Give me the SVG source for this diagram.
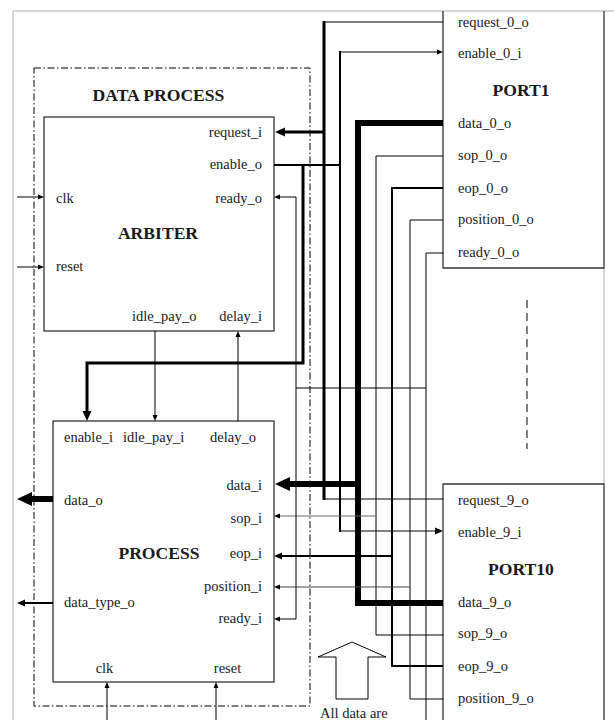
<svg xmlns="http://www.w3.org/2000/svg" width="614" height="720" viewBox="0 0 614 720">
<style>
text{font-family:"Liberation Serif","Times New Roman",serif;font-size:14.5px;fill:#1a1a1a}
.b{font-weight:bold;font-size:17.6px}
.e{text-anchor:end}
.m{text-anchor:middle}
.box{fill:none;stroke:#333;stroke-width:1.3}
.frame{fill:none;stroke:#c8c8c8;stroke-width:1.5}
.w{fill:none;stroke:#000;stroke-linejoin:miter}
</style>
<defs>
<marker id="mXL" markerUnits="userSpaceOnUse" markerWidth="16" markerHeight="15" refX="0" refY="7" orient="auto" overflow="visible"><path d="M0,0 L15,7 L0,14 z" fill="#000"/></marker>
<marker id="mL" markerUnits="userSpaceOnUse" markerWidth="11" markerHeight="10" refX="0" refY="4.5" orient="auto" overflow="visible"><path d="M0,0 L10,4.5 L0,9 z" fill="#000"/></marker>
<marker id="mM" markerUnits="userSpaceOnUse" markerWidth="9" markerHeight="8" refX="0" refY="3.5" orient="auto" overflow="visible"><path d="M0,0 L8,3.5 L0,7 z" fill="#000"/></marker>
<marker id="mS" markerUnits="userSpaceOnUse" markerWidth="7" markerHeight="6" refX="0" refY="2.5" orient="auto" overflow="visible"><path d="M0,0 L6,2.5 L0,5 z" fill="#000"/></marker>
</defs>
<rect width="614" height="720" fill="#fff"/>
<g id="frame">
<line class="frame" x1="13" y1="11" x2="614" y2="11"/>
<line class="frame" x1="13" y1="11" x2="13" y2="720"/>
<line class="frame" x1="604" y1="268" x2="604" y2="484"/>
</g>
<g id="data-process">
<rect x="34" y="68" width="276" height="638" fill="none" stroke="#000" stroke-width="1" stroke-dasharray="7,2.5,1.5,2.5"/>
<text class="b m" x="158.5" y="101">DATA PROCESS</text>
</g>
<g id="arbiter">
<rect class="box" x="44" y="117" width="230" height="214"/>
<text class="e" x="262" y="137">request_i</text>
<text class="e" x="262" y="169">enable_o</text>
<text class="e" x="262" y="203">ready_o</text>
<text x="56" y="203">clk</text>
<text class="b m" x="158" y="239">ARBITER</text>
<text x="56" y="271">reset</text>
<text x="132" y="321">idle_pay_o</text>
<text class="e" x="262" y="321">delay_i</text>
</g>
<g id="process">
<rect class="box" x="53" y="421" width="221" height="261"/>
<text x="64" y="442">enable_i</text>
<text x="123" y="442">idle_pay_i</text>
<text x="210" y="442">delay_o</text>
<text class="e" x="262" y="490">data_i</text>
<text x="64" y="505">data_o</text>
<text class="e" x="262" y="523">sop_i</text>
<text class="b m" x="159" y="559">PROCESS</text>
<text class="e" x="262" y="558">eop_i</text>
<text class="e" x="262" y="591">position_i</text>
<text x="64" y="607">data_type_o</text>
<text class="e" x="262" y="623">ready_i</text>
<text class="m" x="104.5" y="673">clk</text>
<text class="m" x="227.5" y="673">reset</text>
</g>
<g id="port1">
<path class="box" d="M443,11 V268 H604 V11"/>
<text x="458" y="27">request_0_o</text>
<text x="458" y="58">enable_0_i</text>
<text class="b m" x="521" y="96">PORT1</text>
<text x="458" y="128">data_0_o</text>
<text x="458" y="160">sop_0_o</text>
<text x="458" y="193">eop_0_o</text>
<text x="458" y="224">position_0_o</text>
<text x="458" y="257">ready_0_o</text>
</g>
<g id="port10">
<path class="box" d="M443,720 V484 H604 V720"/>
<text x="458" y="505">request_9_o</text>
<text x="458" y="537">enable_9_i</text>
<text class="b m" x="521" y="575">PORT10</text>
<text x="458" y="607">data_9_o</text>
<text x="458" y="638">sop_9_o</text>
<text x="458" y="671">eop_9_o</text>
<text x="458" y="703">position_9_o</text>
</g>
<g id="ellipsis">
<line x1="527" y1="300" x2="527" y2="449" stroke="#555" stroke-width="1.5" stroke-dasharray="8,5"/>
</g>
<g id="note">
<polygon points="352,642 386,657 368,657 368,699 336,699 336,657 318,657" fill="#fff" stroke="#000" stroke-width="1"/>
<text x="320" y="718">All data are</text>
</g>
<g id="connectors">
<path class="w" d="M443,22 H324" stroke-width="1.2"/>
<path class="w" d="M324,499 H443" stroke-width="1.2"/>
<line x1="324" y1="21" x2="324" y2="500" stroke="#000" stroke-width="3"/>
<line x1="324" y1="132" x2="285" y2="132" stroke="#000" stroke-width="3" marker-end="url(#mL)"/>
<path class="w" d="M340,164 V52 H437" stroke-width="1.2" marker-end="url(#mS)"/>
<line x1="340" y1="51" x2="340" y2="532" stroke="#000" stroke-width="2"/>
<path class="w" d="M340,531 H435" stroke-width="1.2" marker-end="url(#mM)"/>
<line x1="274" y1="165" x2="341" y2="165" stroke="#000" stroke-width="2"/>
<path class="w" d="M303,164 V363 H87 V411" stroke-width="3" marker-end="url(#mL)"/>
<path class="w" d="M443,123 H358 V603 H443" stroke-width="6"/>
<line x1="358" y1="484" x2="290" y2="484" stroke="#000" stroke-width="6" marker-end="url(#mXL)"/>
<line x1="53" y1="499" x2="32" y2="499" stroke="#000" stroke-width="6" marker-end="url(#mXL)"/>
<path class="w" d="M443,156 H376 V635 H443" stroke-width="1"/>
<line x1="376" y1="516" x2="280" y2="516" stroke="#666" stroke-width="1" marker-end="url(#mS)"/>
<path class="w" d="M443,188 H392 V666 H443" stroke-width="2"/>
<line x1="392" y1="556" x2="282" y2="556" stroke="#000" stroke-width="2" marker-end="url(#mM)"/>
<path class="w" d="M443,220 H410 V699 H443" stroke-width="1"/>
<line x1="410" y1="587" x2="280" y2="587" stroke="#444" stroke-width="1" marker-end="url(#mS)"/>
<path class="w" d="M443,253 H426 V720" stroke-width="1"/>
<line x1="296" y1="388" x2="426" y2="388" stroke="#000" stroke-width="1"/>
<path class="w" d="M296,197 V619 H280" stroke-width="1" marker-end="url(#mS)"/>
<line x1="296" y1="197" x2="280" y2="197" stroke="#000" stroke-width="1" marker-end="url(#mS)"/>
<line x1="17" y1="197" x2="38" y2="197" stroke="#000" stroke-width="1" marker-end="url(#mS)"/>
<line x1="17" y1="267" x2="38" y2="267" stroke="#000" stroke-width="1" marker-end="url(#mS)"/>
<line x1="155" y1="331" x2="155" y2="415" stroke="#000" stroke-width="1" marker-end="url(#mS)"/>
<line x1="238" y1="421" x2="238" y2="337" stroke="#000" stroke-width="1" marker-end="url(#mS)"/>
<line x1="107" y1="720" x2="107" y2="688" stroke="#000" stroke-width="1" marker-end="url(#mS)"/>
<line x1="216" y1="720" x2="216" y2="688" stroke="#000" stroke-width="1" marker-end="url(#mS)"/>
<line x1="53" y1="603" x2="25" y2="603" stroke="#000" stroke-width="2" marker-end="url(#mM)"/>
</g>
</svg>
